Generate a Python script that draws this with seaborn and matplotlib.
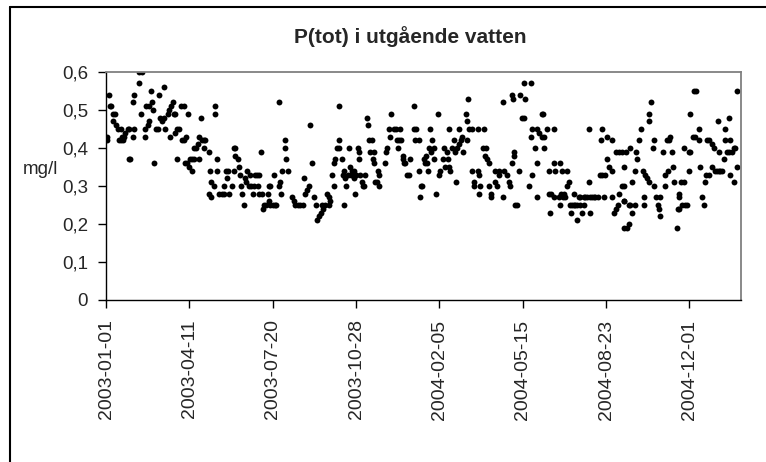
import matplotlib
matplotlib.use("Agg")
import matplotlib.pyplot as plt
import matplotlib.dates as mdates
from matplotlib.lines import Line2D
from matplotlib.ticker import FuncFormatter
import seaborn as sns
import pandas as pd

# days after 2003-01-01 and P(tot) in mg/l
days = [
    1, 1, 4, 5, 6, 8, 8, 11, 12, 14, 15, 18, 18, 19, 20, 22, 23, 26, 27, 27,
    29, 32, 32, 34, 34, 39, 40, 42, 43, 47, 47, 48, 50, 51, 52, 54, 55, 56, 58, 60,
    62, 63, 65, 67, 69, 70, 71, 74, 75, 77, 78, 80, 81, 83, 83, 85, 85, 87, 90, 91,
    94, 95,
    93, 96, 98, 97, 99, 101, 103, 103, 105, 106, 108, 110, 111, 112, 114, 115, 117, 117,
    119, 123, 124, 125, 126, 126, 129, 131, 131, 133, 133, 136, 139, 141, 142, 144, 145, 146,
    148, 151, 153, 153, 155, 155, 158, 160, 161, 162, 163, 165, 167, 168, 169, 171, 173, 174,
    176, 178, 179, 181, 182, 183, 184, 186, 187, 188, 190, 192, 194, 195, 195, 197, 197, 200,
    201, 203, 204, 207, 208, 209, 210, 211, 215, 215, 216, 218, 223, 225,
    227, 230, 233, 236, 238, 239, 241, 243, 245, 247, 250, 252, 253, 256, 258, 260, 259, 263,
    265, 267, 268, 269, 271, 273, 273, 275, 277, 279, 280, 280, 283, 284, 285, 286, 287, 288,
    290, 292, 293, 294, 295, 297, 298, 299, 300, 302, 303, 304, 305, 307, 308, 309, 311, 313,
    314, 315, 317, 319, 320, 321, 322, 323, 325, 326, 327, 328, 335, 336, 337, 340, 341, 342,
    345, 348, 349, 350, 351, 353, 356, 358,
    354, 356, 359, 361, 363, 365, 369, 370, 371, 372, 375, 375, 377, 378, 379, 382, 383, 384,
    385, 386, 387, 389, 390, 391, 393, 394, 396, 398, 399, 401, 404, 406, 407, 409, 410, 411,
    412, 413, 415, 417, 419, 420, 421, 423, 424, 426, 427, 428, 432, 433, 433, 434, 435, 439,
    439, 442, 442, 446, 446, 448, 448, 449, 452, 453, 455, 456, 457, 459, 460, 462, 462, 467,
    467, 469, 471, 472, 476, 476, 478, 481, 483, 485, 487, 487, 488, 489, 491,
    490, 493, 495, 497, 499, 501, 501, 503, 508, 510, 510, 511, 511, 515, 517, 517, 517, 519,
    523, 523, 524, 525, 526, 529, 531, 531, 533, 534, 537, 537, 537, 539, 543, 545, 545, 546,
    547, 548, 549, 551, 553, 553, 555, 557, 558, 559, 561, 561, 563, 565, 565, 567, 569, 569,
    571, 573, 573, 575, 577, 579, 580, 581, 581, 583, 585, 587, 590, 593, 594, 595, 595, 597,
    599, 601, 601, 603, 607, 607, 607, 609, 612, 612, 614, 615, 615, 619, 619, 621, 621, 621,
    622, 622, 624, 625, 627, 628, 629, 629, 631, 631, 635, 635, 636, 637, 640, 642, 644, 645,
    646, 647, 649, 651, 651, 652, 654, 656, 658, 658, 660, 662, 664, 665, 665, 668, 671, 671,
    673, 674, 676, 677, 679, 680, 682, 685, 686, 687, 688, 688, 690, 691, 693, 693, 695, 697,
    699, 699, 701, 701,
    704, 706, 708, 707, 711, 713, 712, 715, 717, 719, 720, 721, 724, 723, 727, 727, 729, 731,
    733, 735, 734, 737, 739, 736, 741, 743, 743, 745, 747, 748, 749, 749, 751, 753, 754, 755,
    757, 757,
]
ptot = [
    .43, .42, .54, .51, .51, .49, .47, .49, .46, .45, .42, .42, .45, .43, .42, .43, .44, .45, .45, .37,
    .37, .43, .52, .45, .54, .60, .57, .49, .60, .45, .43, .51, .46, .51, .47, .55, .52, .50, .36, .45,
    .45, .54, .48, .47, .56, .48, .45, .49, .50, .43, .51, .52, .49, .49, .44, .45, .37, .45, .51, .42,
    .42, .36,
    .51, .43, .49, .36, .35, .37, .37, .34, .37, .40, .40, .41, .43, .37, .48, .42, .42, .40,
    .42, .39, .28, .34, .31, .27, .30, .51, .49, .37, .34, .28, .28, .30, .28, .34, .32, .34,
    .28, .30, .34, .40, .40, .38, .37, .35, .33, .30, .28, .25, .32, .31, .34, .30, .33, .30,
    .28, .30, .33, .33, .30, .33, .28, .39, .28, .24, .25, .25, .28, .26, .30, .30, .25, .25,
    .33, .25, .25, .52, .30, .31, .28, .34, .42, .40, .37, .34, .27, .26,
    .25, .25, .25, .25, .32, .28, .29, .30, .46, .36, .27, .25, .21, .22, .23, .24, .25, .25,
    .28, .27, .25, .26, .33, .30, .36, .37, .40, .42, .40, .51, .37, .33, .25, .34, .32, .30,
    .33, .40, .35, .33, .34, .32, .34, .28, .33, .40, .37, .39, .33, .31, .30, .30, .33, .48,
    .46, .42, .39, .42, .37, .39, .36, .31, .31, .34, .33, .30, .36, .39, .40, .45, .43, .49,
    .45, .45, .42, .40, .42, .45, .37, .36,
    .42, .38, .36, .33, .33, .37, .45, .51, .42, .45, .42, .34, .27, .30, .30, .37, .36, .38,
    .36, .34, .40, .45, .39, .42, .37, .40, .28, .49, .33, .34, .37, .40, .35, .39, .37, .45,
    .35, .34, .40, .42, .39, .31, .40, .41, .45, .42, .43, .39, .49, .47, .42, .53, .45, .45,
    .34, .31, .30, .45, .34, .33, .28, .30, .40, .45, .38, .40, .37, .36, .30, .28, .27, .34,
    .31, .30, .33, .34, .52, .27, .34, .33, .31, .30, .54, .36, .53, .38, .25,
    .39, .25, .34, .54, .48, .48, .57, .53, .30, .57, .43, .45, .33, .40, .45, .36, .27, .44,
    .49, .43, .49, .40, .43, .45, .34, .28, .23, .28, .45, .36, .27, .34, .27, .36, .25, .28,
    .34, .27, .28, .27, .34, .30, .31, .25, .23, .25, .28, .25, .25, .25, .21, .27, .25, .27,
    .23, .25, .27, .27, .27, .45, .31, .23, .27, .27, .27, .27, .27, .33, .42, .45, .33, .27,
    .33, .43, .37, .35, .42, .34, .27, .23, .24, .39, .25, .39, .28, .39, .30, .35, .26, .19,
    .30, .26, .39, .19, .25, .20, .40, .25, .31, .23, .34, .25, .39, .37, .42, .45, .34, .27,
    .25, .33, .32, .31, .47, .49, .52, .40, .42, .30, .27, .25, .24, .27, .22, .39, .33, .30,
    .42, .34, .42, .43, .39, .35, .31, .19, .24, .27, .28, .24, .31, .25, .31, .40, .25, .25,
    .39, .34, .39, .49,
    .43, .55, .55, .43, .45, .35, .42, .27, .25, .31, .33, .42, .42, .33, .35, .41, .40, .34,
    .34, .34, .47, .34, .34, .39, .37, .45, .42, .39, .39, .48, .42, .33, .39, .31, .40, .40,
    .35, .55,
]

start = pd.Timestamp("2003-01-01")
tick_dates = ["2003-01-01", "2003-04-11", "2003-07-20", "2003-10-28",
              "2004-02-05", "2004-05-15", "2004-08-23", "2004-12-01"]
y_ticks = [0, 0.1, 0.2, 0.3, 0.4, 0.5, 0.6]

df = pd.DataFrame({"datum": start + pd.to_timedelta(days, unit="D"), "ptot": ptot})

sns.set_theme(style="white")
plt.rcParams["font.family"] = ["Liberation Sans", "DejaVu Sans"]

fig = plt.figure(figsize=(7.66, 4.62), dpi=100)
ax = fig.add_axes([106 / 766, 1 - 300 / 462, 635 / 766, 228 / 462])

sns.scatterplot(data=df, x="datum", y="ptot", ax=ax, color="black",
                s=18, linewidth=0, legend=False)

ax.set_xlim(start, start + pd.Timedelta(days=762))
ax.set_ylim(0, 0.6)
ax.set_xticks(pd.to_datetime(tick_dates))
ax.xaxis.set_major_formatter(mdates.DateFormatter("%Y-%m-%d"))
ax.set_yticks(y_ticks)
ax.yaxis.set_major_formatter(FuncFormatter(lambda v, p: "0" if v == 0 else f"{v:.1f}".replace(".", ",")))
ax.tick_params(axis="x", rotation=90, labelsize=14, length=6, width=1, pad=8, direction="out", bottom=True, color="black")
ax.tick_params(axis="y", labelsize=13.5, length=6, width=1, pad=7, direction="out", left=True, color="black")
ax.set_xlabel("")
ax.set_ylabel("")

for side in ["left", "bottom"]:
    ax.spines[side].set_color("black")
    ax.spines[side].set_linewidth(1.0)
for side in ["top", "right"]:
    ax.spines[side].set_color("#808080")
    ax.spines[side].set_linewidth(1.3)

fig.text(23 / 766, 1 - 170 / 462, "mg/l", fontsize=13.5, ha="left", va="center")
fig.text(410 / 766, 1 - 37 / 462, "P(tot) i utgående vatten", fontsize=15,
         fontweight="bold", ha="center", va="center")

# chart frame, only the left and top edges are inside the picture
fig.add_artist(Line2D([10 / 766, 10 / 766], [0, 1 - 7 / 462], color="black", lw=1.5))
fig.add_artist(Line2D([10 / 766, 1], [1 - 7 / 462, 1 - 7 / 462], color="black", lw=1.5))

fig.savefig("out.png", dpi=100)
